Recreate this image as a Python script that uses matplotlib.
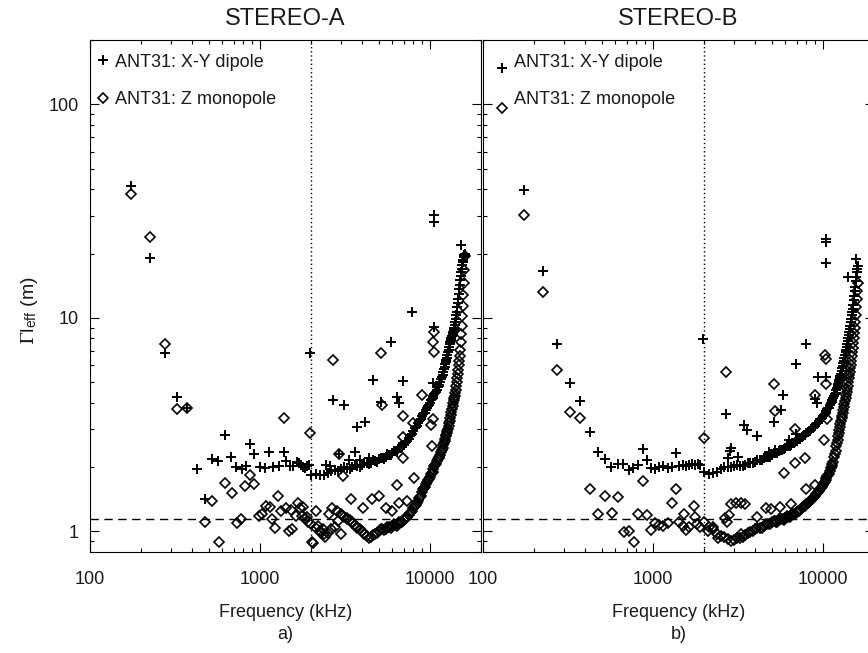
import matplotlib
matplotlib.use('Agg')
import matplotlib.pyplot as plt
from matplotlib.ticker import FixedLocator, FixedFormatter, LogLocator, NullFormatter

plt.rcParams['font.family'] = ['Liberation Sans', 'DejaVu Sans']
plt.rcParams['mathtext.fontset'] = 'stix'

# __ axes / reference lines __
x_ticks = [100, 1000, 10000]
x_tick_labels = ['100', '1000', '10000']
y_ticks = [1, 10, 100]
y_tick_labels = ['1', '10', '100']
f_cut = 2000        # kHz, LFR / HFR boundary (dotted line)
gamma_ref = 1.14    # m, dashed reference level

# __ HFR channels (kHz) shared by the dense part of every curve __
hfr_freq = [2000, 2250, 2500, 2750, 3000, 3250, 3500, 3750, 4000, 4250,
            4500, 4750, 5000, 5250, 5500, 5750, 6000, 6250, 6500, 6750,
            7000, 7250, 7500, 7750, 8000, 8250, 8500, 8750, 9000, 9250,
            9500, 9750, 10000, 10250, 10500, 10750, 11000, 11250, 11500, 11750,
            12000,
            12100, 12200, 12300, 12400, 12500, 12600, 12700, 12800, 12900, 13000,
            13100, 13200, 13300, 13400, 13500, 13600, 13700, 13800, 13900, 14000,
            14100, 14200, 14300, 14400, 14500, 14600, 14700, 14800, 14900, 15000,
            15100, 15200, 15300, 15400, 15500, 15600, 15700, 15800, 15900, 16000]
# __ in-between HFR channels below 12 MHz __
hfr_freq_mid = [2125, 2375, 2625, 2875, 3125, 3375, 3625, 3875, 4125, 4375,
                4625, 4875, 5125, 5375, 5625, 5875, 6125, 6375, 6625, 6875,
                7125, 7375, 7625, 7875, 8125, 8375, 8625, 8875, 9125, 9375,
                9625, 9875, 10125, 10375, 10625, 10875, 11125, 11375, 11625, 11875]

# __ STEREO-A, X-Y dipole __
a_xy_hfr = [1.83, 1.84, 1.88, 1.93, 1.96, 1.98, 2.0, 2.02, 2.05, 2.08,
            2.1, 2.13, 2.17, 2.2, 2.24, 2.28, 2.32, 2.37, 2.42, 2.48,
            2.55, 2.63, 2.72, 2.82, 2.95, 3.08, 3.2, 3.33, 3.45, 3.58,
            3.7, 3.85, 4.0, 4.15, 4.3, 4.45, 4.6, 4.8, 5.0, 5.3,
            5.6,
            5.75, 5.9, 6.05, 6.2, 6.35, 6.5, 6.7, 6.9, 7.1, 7.3,
            7.5, 7.7, 7.85, 8.0, 8.2, 8.4, 8.6, 8.8, 9.0, 9.3,
            9.6, 9.9, 10.3, 10.7, 11.2, 11.7, 12.3, 12.9, 13.6, 14.3,
            15.0, 15.7, 16.4, 17.0, 17.6, 18.2, 18.7, 19.2, 19.6, 20.0]
a_xy_mid = [1.86, 1.83, 1.92, 1.92, 2.0, 1.96, 2.04, 2.0, 2.09, 2.06,
            2.15, 2.12, 2.21, 2.19, 2.29, 2.27, 2.38, 2.36, 2.48, 2.49,
            2.62, 2.65, 2.8, 2.86, 3.05, 3.1, 3.3, 3.36, 3.55, 3.6,
            3.8, 3.9, 4.1, 4.2, 4.4, 4.5, 4.72, 4.87, 5.18, 5.42]
a_xy_f = [174, 224, 276, 325, 373, 424, 474, 522, 567, 622, 675, 720, 787, 828,
          877, 926, 1000, 1070, 1133, 1190, 1290, 1385, 1430, 1505, 1575, 1650,
          1700, 1750, 1800, 1850, 1900, 1950, 1960,
          2450, 2600, 2680, 2920, 3130, 3360, 3610, 3710, 3900, 4160, 4400, 4600,
          5170, 5920, 6430, 6600, 6970, 7840, 10370, 10560, 10560, 10560, 15300]
a_xy_v = [41.4, 19.1, 6.84, 4.26, 3.8, 1.95, 1.41, 2.17, 2.13, 2.83, 2.22, 1.99, 1.95, 2.02,
          2.56, 2.29, 1.99, 1.98, 2.34, 2.0, 2.02, 2.35, 2.14, 2.02, 2.02, 2.11,
          2.08, 2.04, 2.0, 1.98, 2.02, 2.05, 6.84,
          2.05, 2.02, 4.11, 2.31, 3.89, 2.15, 2.34, 3.08, 2.15, 3.24, 2.2, 5.13,
          4.04, 7.7, 4.25, 4.0, 5.04, 10.6, 4.95, 30.2, 28.2, 9.1, 22.0]

# __ STEREO-A, Z monopole __
a_z_hfr = [1.08, 1.0, 0.98, 1.05, 1.2, 1.15, 1.1, 1.05, 1.0, 0.95,
           0.94, 0.97, 1.0, 1.02, 1.03, 1.05, 1.06, 1.07, 1.08, 1.1,
           1.13, 1.16, 1.19, 1.23, 1.28, 1.33, 1.39, 1.45, 1.52, 1.59,
           1.66, 1.73, 1.8, 1.88, 1.96, 2.05, 2.13, 2.2, 2.28, 2.4,
           2.55,
           2.6, 2.66, 2.72, 2.78, 2.84, 2.9, 2.95, 3.0, 3.1, 3.2,
           3.3, 3.4, 3.5, 3.62, 3.75, 3.88, 4.0, 4.1, 4.2, 4.3,
           4.45, 4.6, 4.8, 5.0, 5.2, 5.45, 5.7, 6.0, 6.3, 6.6,
           7.1, 7.7, 8.4, 9.2, 10.2, 11.4, 12.8, 14.5, 16.8, 19.5]
a_z_mid = [1.04, 0.97, 1.02, 1.12, 1.17, 1.13, 1.07, 1.02, 0.97, 0.93,
           0.96, 0.98, 1.02, 1.01, 1.05, 1.04, 1.08, 1.06, 1.1, 1.11,
           1.16, 1.17, 1.22, 1.24, 1.32, 1.35, 1.43, 1.47, 1.57, 1.61,
           1.71, 1.75, 1.86, 1.9, 2.02, 2.07, 2.18, 2.22, 2.36, 2.45]
a_z_f = [174, 224, 276, 325, 373, 474, 524, 577, 622, 681, 730, 774, 815, 877,
         922, 990, 1035, 1085, 1140, 1170, 1230, 1270, 1325, 1385, 1430, 1480,
         1530, 1550, 1640, 1680, 1720, 1760, 1790, 1840, 1880, 1920, 1970,
         2020, 2050, 2150, 2200, 2300, 2350, 2400, 2550, 2640, 2680, 2830, 2920,
         3020, 3030, 3100, 3250, 3440, 3480, 3720, 4040, 4560, 5040, 5170, 5200,
         5530, 6000, 6370, 6600, 6960, 6960, 6960, 7300, 7920, 8080, 8970,
         10200, 10300, 10400, 10480, 10560, 10560]
a_z_v = [38.0, 24.0, 7.5, 3.73, 3.76, 1.11, 1.39, 0.888, 1.69, 1.51, 1.09, 1.14, 1.63, 1.84,
         1.67, 1.18, 1.21, 1.31, 1.30, 1.14, 1.04, 1.46, 1.25, 3.4, 1.28, 1.0,
         1.26, 1.02, 1.18, 1.36, 1.29, 1.18, 1.30, 1.15, 1.17, 1.11, 2.9,
         0.89, 0.88, 1.25, 1.06, 0.98, 1.03, 0.94, 1.2, 1.28, 6.37, 1.25, 2.31,
         0.975, 1.19, 1.81, 1.14, 1.41, 1.09, 1.04, 1.28, 1.41, 1.46, 6.84, 3.89,
         1.28, 1.25, 1.64, 1.36, 3.46, 2.76, 2.21, 1.38, 3.22, 1.77, 4.33,
         3.16, 2.51, 3.37, 7.7, 8.58, 6.95]

# __ STEREO-B, X-Y dipole __
b_xy_hfr = [1.9, 1.87, 1.95, 2.0, 2.02, 2.03, 2.05, 2.08, 2.12, 2.16,
            2.2, 2.24, 2.28, 2.32, 2.37, 2.41, 2.46, 2.5, 2.55, 2.6,
            2.65, 2.7, 2.76, 2.82, 2.88, 2.94, 3.0, 3.06, 3.13, 3.2,
            3.28, 3.36, 3.45, 3.55, 3.65, 3.77, 3.9, 4.05, 4.2, 4.38,
            4.6,
            4.7, 4.8, 4.9, 5.0, 5.1, 5.22, 5.35, 5.48, 5.62, 5.8,
            5.96, 6.12, 6.3, 6.5, 6.7, 6.9, 7.1, 7.3, 7.55, 7.8,
            8.05, 8.3, 8.6, 8.9, 9.2, 9.55, 9.9, 10.3, 10.6, 11.0,
            11.5, 12.1, 12.7, 13.3, 14.0, 14.8, 15.6, 16.4, 17.0, 17.5]
b_xy_mid = [1.86, 1.9, 1.99, 1.99, 2.04, 2.02, 2.08, 2.08, 2.16, 2.16,
            2.24, 2.24, 2.32, 2.33, 2.41, 2.42, 2.5, 2.51, 2.6, 2.61,
            2.7, 2.71, 2.81, 2.83, 2.93, 2.95, 3.05, 3.07, 3.18, 3.22,
            3.34, 3.38, 3.52, 3.58, 3.73, 3.8, 4.0, 4.1, 4.3, 4.46]
b_xy_f = [174, 224, 273, 326, 373, 424, 474, 524, 570, 622, 665, 722, 765, 821,
          870, 925, 975, 1030, 1090, 1150, 1220, 1290, 1370, 1430, 1500, 1560,
          1630, 1700, 1760, 1830, 1900, 1980,
          2680, 2750, 2850, 2900, 3150, 3420, 3560, 4100, 4800, 5150, 5200, 5680,
          5810, 6300, 6960, 6960, 7930, 9000, 9220, 9330, 10470, 10470, 10470,
          10470, 14030, 15700]
b_xy_v = [39.6, 16.6, 7.51, 4.95, 4.08, 2.92, 2.34, 2.17, 2.01, 2.07, 2.06, 1.94, 1.97, 2.05,
          2.44, 2.15, 1.97, 1.96, 2.0, 2.02, 1.98, 2.01, 2.33, 2.02, 2.04, 2.02,
          2.05, 2.06, 2.04, 2.06, 2.05, 7.96,
          3.56, 2.2, 2.39, 2.45, 2.23, 3.14, 2.97, 2.79, 2.35, 3.25, 2.41, 3.69,
          4.36, 2.67, 6.1, 2.85, 7.55, 4.18, 3.99, 5.28, 23.5, 22.7, 18.1,
          5.3, 15.5, 18.9]

# __ STEREO-B, Z monopole __
b_z_hfr = [1.1, 1.02, 0.95, 0.92, 0.91, 0.93, 0.96, 0.99, 1.02, 1.04,
           1.06, 1.08, 1.1, 1.12, 1.13, 1.14, 1.16, 1.17, 1.19, 1.21,
           1.23, 1.25, 1.28, 1.31, 1.34, 1.37, 1.4, 1.43, 1.47, 1.51,
           1.55, 1.6, 1.65, 1.71, 1.77, 1.84, 1.92, 2.02, 2.12, 2.3,
           2.5,
           2.58, 2.68, 2.78, 2.88, 2.98, 3.08, 3.18, 3.28, 3.38, 3.48,
           3.58, 3.7, 3.82, 3.95, 4.08, 4.2, 4.35, 4.5, 4.65, 4.8,
           5.0, 5.2, 5.4, 5.6, 5.8, 6.0, 6.3, 6.6, 6.9, 7.2,
           7.6, 8.0, 8.5, 9.0, 9.6, 10.3, 11.2, 12.2, 13.3, 14.5]
b_z_mid = [1.05, 0.97, 0.94, 0.9, 0.93, 0.94, 0.98, 1.0, 1.04, 1.04,
           1.08, 1.08, 1.12, 1.11, 1.15, 1.14, 1.18, 1.17, 1.21, 1.21,
           1.25, 1.26, 1.3, 1.32, 1.36, 1.38, 1.42, 1.44, 1.5, 1.52,
           1.58, 1.61, 1.69, 1.73, 1.82, 1.86, 1.98, 2.06, 2.22, 2.38]
b_z_f = [174, 224, 273, 326, 373, 424, 474, 524, 574, 622, 675, 722, 770, 821,
         870, 922, 968, 1030, 1090, 1150, 1220, 1290, 1370, 1430, 1500, 1530,
         1560, 1630, 1740, 1760, 1820, 1880, 1985,
         2100, 2250, 2400, 2640, 2680, 2720, 2800, 2890, 3100, 3300, 3300, 3500,
         4100, 4640, 4960, 5150, 5200, 5300, 5600, 5880, 5900, 6500, 6820, 6900,
         7800, 7980, 9000, 9000, 10160, 10230, 10470, 10470, 10640]
b_z_v = [30.4, 13.2, 5.68, 3.62, 3.39, 1.57, 1.20, 1.47, 1.22, 1.44, 0.99, 1.0, 0.89, 1.2,
         1.72, 1.19, 1.01, 1.09, 1.07, 1.06, 1.09, 1.36, 1.57, 1.10, 1.06, 1.2,
         1.01, 1.05, 1.32, 1.17, 1.08, 1.05, 2.74,
         1.0, 1.05, 0.93, 1.15, 5.57, 1.1, 1.19, 1.34, 1.36, 1.35, 0.975, 1.34,
         1.17, 1.28, 1.27, 4.92, 3.66, 1.1, 1.3, 1.88, 1.13, 1.34, 2.09, 3.03,
         2.2, 1.58, 4.36, 1.64, 2.69, 6.67, 6.44, 4.92, 3.37]

PLUS = dict(ls='none', marker='+', ms=6.5, mew=1.4, color='black')
DIAM = dict(ls='none', marker='D', ms=5.0, mew=1.2, mfc='none', mec='black')
TXT = '#1a1a1a'


def draw_panel(ax, xy, z, title, tag, leg):
    (xy_hfr, xy_mid, xy_f, xy_v) = xy
    (z_hfr, z_mid, z_f, z_v) = z
    # __ data __
    ax.plot(hfr_freq, z_hfr, **DIAM)
    ax.plot(hfr_freq_mid, z_mid, **DIAM)
    ax.plot(z_f, z_v, **DIAM)
    ax.plot(hfr_freq, xy_hfr, **PLUS)
    ax.plot(hfr_freq_mid, xy_mid, **PLUS)
    ax.plot(xy_f, xy_v, **PLUS)

    # __ reference lines __
    ax.axvline(f_cut, color='black', lw=1.0, ls=(0, (1, 2)))
    ax.axhline(gamma_ref, color='black', lw=1.0, ls=(0, (6, 4)))

    # __ axes __
    ax.set_xscale('log')
    ax.set_yscale('log')
    ax.set_xlim(100, 20000)
    ax.set_ylim(0.8, 200)
    ax.xaxis.set_major_locator(FixedLocator(x_ticks))
    ax.xaxis.set_major_formatter(FixedFormatter(x_tick_labels))
    ax.yaxis.set_major_locator(FixedLocator(y_ticks))
    ax.yaxis.set_major_formatter(FixedFormatter(y_tick_labels))
    for axis in (ax.xaxis, ax.yaxis):
        axis.set_minor_locator(LogLocator(base=10, subs=range(2, 10)))
        axis.set_minor_formatter(NullFormatter())
    ax.tick_params(which='both', direction='in', top=True, right=True,
                   width=0.8, colors='black', labelcolor=TXT, labelsize=13, pad=14)
    ax.tick_params(which='major', length=6.5)
    ax.tick_params(which='minor', length=3.2)
    ax.tick_params(axis='y', pad=8)
    for s in ax.spines.values():
        s.set_linewidth(0.8)

    ax.set_title(title, fontsize=17, color=TXT, pad=11)
    ax.set_xlabel('Frequency (kHz)', fontsize=13, color=TXT, labelpad=11)
    ax.text(0.5, -0.162, tag, transform=ax.transAxes, ha='center', va='center',
            fontsize=13, color=TXT)

    # __ legend, drawn by hand like the original __
    (px, py1, py2, tx, ty1, ty2) = leg
    ax.plot([px], [py1], transform=ax.transAxes, clip_on=False, **PLUS)
    ax.plot([px], [py2], transform=ax.transAxes, clip_on=False, **DIAM)
    ax.text(tx, ty1, 'ANT31: X-Y dipole', transform=ax.transAxes, va='center',
            fontsize=13, color=TXT)
    ax.text(tx, ty2, 'ANT31: Z monopole', transform=ax.transAxes, va='center',
            fontsize=13, color=TXT)


def main():
    fig = plt.figure(figsize=(8.68, 6.53), dpi=100)
    W, H = 868.0, 653.0
    ax_a = fig.add_axes([90 / W, 1 - 552 / H, 391 / W, 512 / H])
    ax_b = fig.add_axes([483 / W, 1 - 552 / H, 391 / W, 512 / H])

    draw_panel(ax_a, (a_xy_hfr, a_xy_mid, a_xy_f, a_xy_v),
               (a_z_hfr, a_z_mid, a_z_f, a_z_v),
               'STEREO-A', 'a)', (0.034, 0.961, 0.887, 0.063, 0.957, 0.884))
    draw_panel(ax_b, (b_xy_hfr, b_xy_mid, b_xy_f, b_xy_v),
               (b_z_hfr, b_z_mid, b_z_f, b_z_v),
               'STEREO-B', 'b)', (0.048, 0.945, 0.867, 0.079, 0.957, 0.884))
    ax_b.tick_params(axis='y', labelleft=False)

    ax_a.set_ylabel(r'$\Gamma$l$_{\mathregular{eff}}$ (m)', fontsize=14, color=TXT)
    ax_a.yaxis.set_label_coords(-0.128, 0.473)

    fig.savefig('out.png', dpi=100)


if __name__ == '__main__':
    main()
